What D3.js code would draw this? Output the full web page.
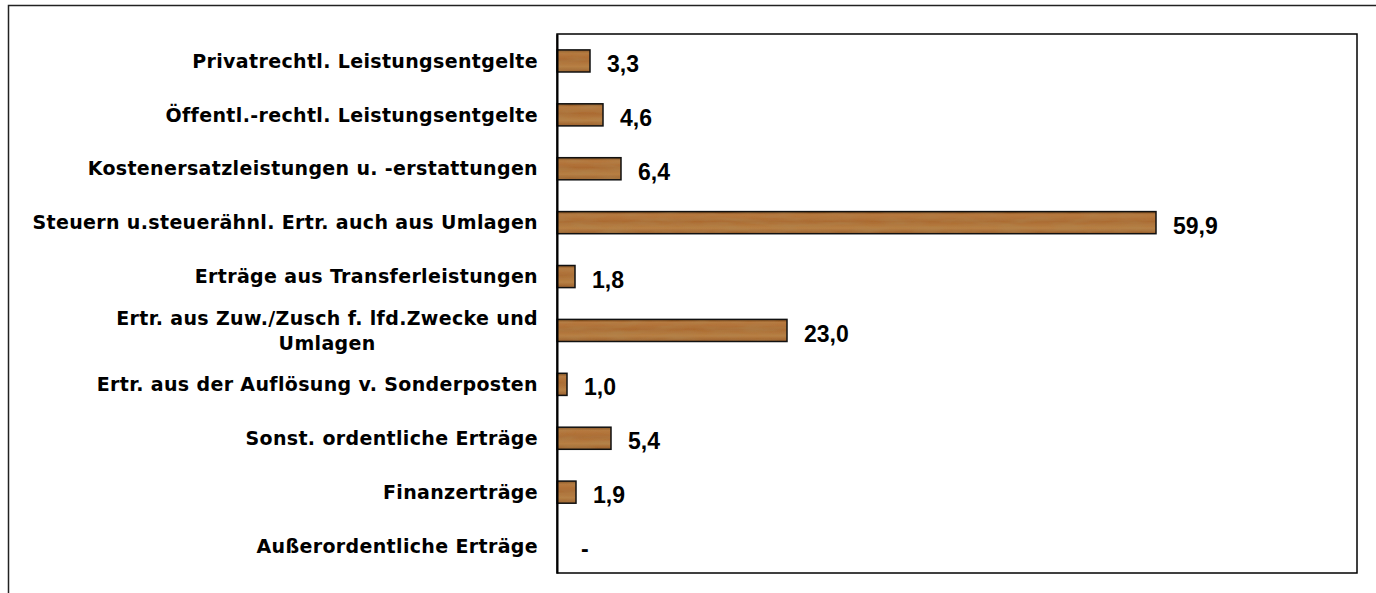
<!DOCTYPE html>
<html>
<head>
<meta charset="utf-8">
<script src="https://cdn.jsdelivr.net/npm/d3@7"></script>
<style>
  html, body { margin: 0; padding: 0; background: #fff; }
  svg { display: block; }
</style>
</head>
<body>
<script>
// categories top to bottom, values in percent
var categories = [
  "Privatrechtl. Leistungsentgelte",
  "Öffentl.-rechtl. Leistungsentgelte",
  "Kostenersatzleistungen u. -erstattungen",
  "Steuern u.steuerähnl. Ertr. auch aus Umlagen",
  "Erträge aus Transferleistungen",
  "Ertr. aus Zuw./Zusch f. lfd.Zwecke und Umlagen",
  "Ertr. aus der Auflösung v. Sonderposten",
  "Sonst. ordentliche Erträge",
  "Finanzerträge",
  "Außerordentliche Erträge"
];
var values = [3.3, 4.6, 6.4, 59.9, 1.8, 23.0, 1.0, 5.4, 1.9, 0];
var xDomain = [0, 80];

var width = 1376,
  height = 593;
var plot = { left: 557, top: 34, right: 1357, bottom: 573 };

var svg = d3.select("body").append("svg")
  .attr("width", width)
  .attr("height", height);

// wood-ish fill for the bars
var defs = svg.append("defs");
var grad = defs.append("linearGradient")
  .attr("id", "woodGrad")
  .attr("x1", 0).attr("y1", 0).attr("x2", 0).attr("y2", 1);
grad.append("stop").attr("offset", "0%").attr("stop-color", "#7a4619");
grad.append("stop").attr("offset", "14%").attr("stop-color", "#b7793f");
grad.append("stop").attr("offset", "45%").attr("stop-color", "#ab6b33");
grad.append("stop").attr("offset", "75%").attr("stop-color", "#b88045");
grad.append("stop").attr("offset", "100%").attr("stop-color", "#9a5e2b");

var filt = defs.append("filter")
  .attr("id", "grain")
  .attr("x", 0).attr("y", 0).attr("width", 1).attr("height", 1);
filt.append("feTurbulence")
  .attr("type", "fractalNoise")
  .attr("baseFrequency", "0.035 0.22")
  .attr("numOctaves", 2)
  .attr("seed", 7)
  .attr("result", "noise");
filt.append("feColorMatrix")
  .attr("in", "noise")
  .attr("type", "matrix")
  .attr("values", "0 0 0 0 0.42  0 0 0 0 0.24  0 0 0 0 0.08  0.9 0 0 0 -0.3")
  .attr("result", "tint");
filt.append("feComposite")
  .attr("in", "tint").attr("in2", "SourceGraphic").attr("operator", "in")
  .attr("result", "tintIn");
filt.append("feMerge").call(function (m) {
  m.append("feMergeNode").attr("in", "SourceGraphic");
  m.append("feMergeNode").attr("in", "tintIn");
});

// outer chart frame
svg.append("rect")
  .attr("x", 8.5).attr("y", 5.5)
  .attr("width", width + 10).attr("height", height + 10)
  .attr("fill", "none")
  .attr("stroke", "#222")
  .attr("stroke-width", 1.5);

var x = d3.scaleLinear().domain(xDomain).range([plot.left, plot.right]);
var y = d3.scaleBand().domain(categories).range([plot.top, plot.bottom]).paddingInner(0.59).paddingOuter(0.295);

// plot area border
svg.append("rect")
  .attr("x", plot.left).attr("y", plot.top)
  .attr("width", plot.right - plot.left).attr("height", plot.bottom - plot.top)
  .attr("fill", "none")
  .attr("stroke", "#000")
  .attr("stroke-width", 1.5);

var bars = svg.append("g");
bars.selectAll("rect.fill")
  .data(values)
  .enter().append("rect")
  .attr("class", "fill")
  .attr("x", x(0))
  .attr("y", function (d, i) { return y(categories[i]); })
  .attr("width", function (d) { return x(d) - x(0); })
  .attr("height", y.bandwidth())
  .attr("fill", "url(#woodGrad)")
  .attr("filter", "url(#grain)");
bars.selectAll("rect.edge")
  .data(values)
  .enter().append("rect")
  .attr("class", "edge")
  .attr("x", x(0))
  .attr("y", function (d, i) { return y(categories[i]); })
  .attr("width", function (d) { return x(d) - x(0); })
  .attr("height", y.bandwidth())
  .attr("fill", "none")
  .attr("stroke", function (d) { return d > 0 ? "#111" : "none"; })
  .attr("stroke-width", 1.5);

// value axis line on the left
var axis = svg.append("g")
  .attr("transform", "translate(" + plot.left + ",0)")
  .call(d3.axisLeft(y).tickSize(0).tickFormat(""));
axis.select(".domain").attr("stroke", "#000").attr("stroke-width", 2);

// value labels
var fmt = function (v) { return v === 0 ? "-" : d3.format(".1f")(v).replace(".", ","); };
svg.append("g").selectAll("text")
  .data(values)
  .enter().append("text")
  .attr("x", function (d) { return x(d) + (d === 0 ? 24 : 17); })
  .attr("y", function (d, i) { return y(categories[i]) + y.bandwidth() / 2 + 3; })
  .attr("dy", "0.35em")
  .style("font-family", "'Liberation Sans', Arial, sans-serif")
  .style("font-weight", "bold")
  .style("font-size", "23px")
  .attr("fill", "#000")
  .text(fmt);

// category labels, wrapped and centred on each other, right aligned to the axis
var labelRight = 538, maxW = 512, lineH = 25;
var labels = svg.append("g")
  .style("font-family", "'DejaVu Sans', Verdana, sans-serif")
  .style("font-weight", "bold")
  .style("font-size", "19px")
  .style("letter-spacing", "0.35px")
  .attr("fill", "#000");

categories.forEach(function (c) {
  var g = labels.append("g");
  var words = c.split(" "), lines = [], line = [];
  var probe = g.append("text");
  words.forEach(function (w) {
    line.push(w);
    probe.text(line.join(" "));
    if (probe.node().getComputedTextLength() > maxW && line.length > 1) {
      line.pop();
      lines.push(line.join(" "));
      line = [w];
    }
  });
  lines.push(line.join(" "));
  var widths = lines.map(function (l) { probe.text(l); return probe.node().getComputedTextLength(); });
  probe.remove();
  var cx = labelRight - d3.max(widths) / 2;
  var cy = y(c) + y.bandwidth() / 2;
  lines.forEach(function (l, k) {
    g.append("text")
      .attr("x", cx)
      .attr("y", cy + (k - (lines.length - 1) / 2) * lineH)
      .attr("dy", "0.35em")
      .attr("text-anchor", "middle")
      .text(l);
  });
});
</script>
</body>
</html>
